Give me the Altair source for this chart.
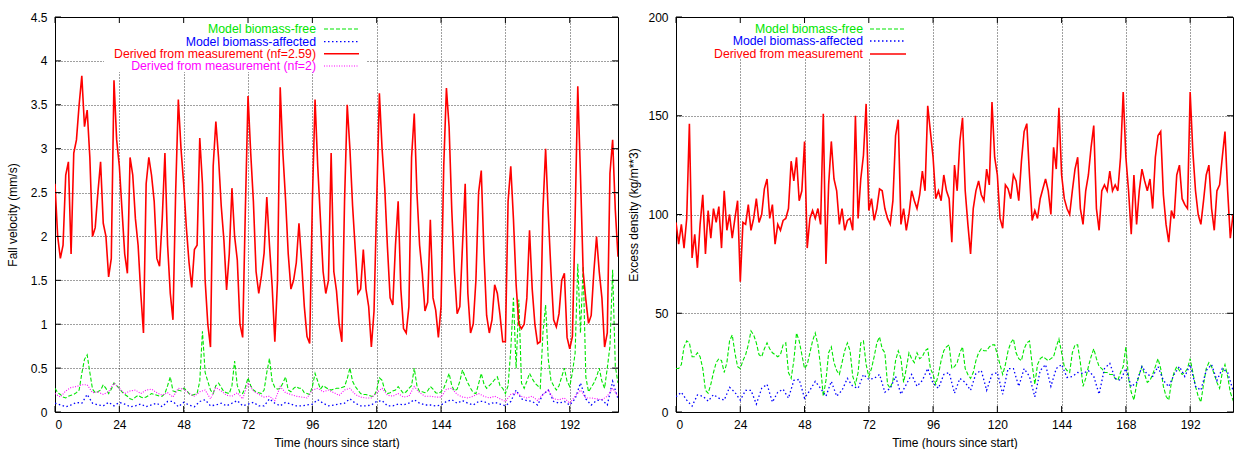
import altair as alt
import pandas as pd

FONT = "Liberation Sans"
H = 395
W_LEFT, W_RIGHT = 563, 557

GREEN = "#00e600"
BLUE = "#0000ff"
RED = "#ff0000"
MAGENTA = "#ff00ff"

# ---- fall velocity (mm/s), hourly from t = 0 ----
fall_nf259 = [
    2.6, 2.0, 1.75, 1.9, 2.7, 2.85, 1.8, 2.95, 3.1, 3.5,
    3.83, 3.25, 3.44, 2.9, 2.0, 2.1, 2.5, 2.85, 2.15, 2.0,
    1.54, 1.75, 3.78, 3.1, 2.8, 2.3, 1.8, 1.58, 2.9, 2.7,
    2.2, 1.9, 1.35, 0.9, 2.6, 2.9, 2.7, 2.4, 1.75, 1.66,
    2.2, 2.95, 1.9, 1.35, 1.05, 2.5, 3.56, 3.0, 2.6, 2.1,
    1.7, 1.42, 1.85, 1.9, 3.12, 2.6, 1.5, 1.0, 0.74, 2.8,
    3.31, 2.9, 2.35, 1.96, 1.39, 1.8, 2.55, 2.0, 1.73, 1.0,
    0.85, 2.3, 3.6, 2.95, 2.4, 1.6, 1.35, 1.55, 1.81, 2.45,
    1.9, 1.43, 0.8, 1.5, 3.7, 2.95, 2.42, 1.8, 1.4, 1.5,
    1.7, 2.15, 1.7, 1.2, 0.86, 0.78, 2.4, 3.56, 2.8, 2.2,
    1.6, 1.35, 1.5, 2.95, 1.6, 1.38, 1.0, 0.8, 2.4, 3.5,
    3.0, 2.35, 1.85, 1.35, 1.4, 1.85, 1.4, 1.2, 0.74, 1.15,
    2.4, 3.63, 3.0, 2.55, 1.88, 1.3, 1.22, 1.9, 2.4, 1.4,
    0.95, 0.9, 1.2, 2.9, 3.4, 2.5, 1.9, 1.58, 1.15, 1.25,
    2.19, 1.3, 1.16, 0.85, 1.2, 2.8, 3.69, 3.25, 2.3, 1.6,
    1.12, 1.2, 1.9, 2.6, 1.35, 0.9, 1.0, 1.5, 2.5, 2.75,
    1.8, 1.1, 0.9, 1.05, 1.45, 1.35, 1.1, 0.8, 0.8, 2.4,
    2.8, 2.2, 1.45, 1.0, 0.95, 1.0, 1.3, 2.07, 1.4, 1.0,
    0.78, 0.8, 2.3, 3.0, 2.25, 1.6, 1.05, 0.97, 1.12, 1.5,
    1.58, 0.85, 0.72, 0.86, 2.2, 3.71, 2.7, 1.6, 1.28, 1.01,
    1.1, 1.6, 2.0, 1.6, 1.3, 0.74, 0.9, 2.72, 3.1, 2.3,
    1.77,
]
fall_free = [
    0.27, 0.22, 0.2, 0.17, 0.16, 0.18, 0.19, 0.2, 0.22, 0.25,
    0.44, 0.6, 0.65, 0.45, 0.26, 0.22, 0.23, 0.25, 0.31, 0.27,
    0.21, 0.26, 0.33, 0.3, 0.27, 0.23, 0.2, 0.18, 0.15, 0.14,
    0.17, 0.19, 0.17, 0.16, 0.17, 0.19, 0.21, 0.2, 0.19, 0.18,
    0.18, 0.21, 0.3, 0.4, 0.24, 0.23, 0.25, 0.24, 0.27, 0.25,
    0.21, 0.19, 0.2, 0.21, 0.35, 0.92, 0.45, 0.35, 0.25, 0.21,
    0.3, 0.33, 0.28, 0.23, 0.22, 0.21, 0.3, 0.58, 0.3, 0.22,
    0.21, 0.28, 0.39, 0.3, 0.25, 0.23, 0.22, 0.21, 0.25, 0.45,
    0.61, 0.35, 0.28, 0.26, 0.27, 0.33, 0.4, 0.25, 0.23, 0.27,
    0.29, 0.27, 0.27, 0.22, 0.21, 0.2, 0.29, 0.44, 0.35, 0.26,
    0.3, 0.28, 0.26, 0.25, 0.26, 0.27, 0.27, 0.28, 0.29, 0.38,
    0.5, 0.35, 0.29, 0.25, 0.21, 0.2, 0.2, 0.19, 0.18, 0.18,
    0.25, 0.39, 0.36, 0.25, 0.21, 0.22, 0.24, 0.25, 0.29, 0.25,
    0.21, 0.23, 0.27, 0.3, 0.5, 0.3, 0.23, 0.23, 0.22, 0.24,
    0.29, 0.26, 0.22, 0.21, 0.23, 0.27, 0.35, 0.44, 0.3, 0.24,
    0.26, 0.35, 0.48, 0.4, 0.33, 0.27, 0.22, 0.21, 0.32, 0.44,
    0.32, 0.27, 0.3, 0.33, 0.37, 0.4, 0.3, 0.27, 0.21, 0.3,
    0.71, 1.3, 0.5, 1.28, 0.33, 0.27, 0.35, 0.44, 0.38, 0.33,
    0.3, 0.27, 0.9, 1.22, 0.6, 0.36, 0.3, 0.25, 0.3, 0.4,
    0.5, 0.35, 0.29, 0.45, 0.67, 1.69, 0.9, 1.66, 0.4, 0.23,
    0.28, 0.33, 0.4, 0.5, 0.35, 0.27, 0.5, 0.75, 1.62, 0.52,
    0.33,
]
# two-hourly from t = 0
fall_affected = [
    0.1, 0.08, 0.06, 0.08, 0.11, 0.1, 0.2, 0.1, 0.08, 0.07,
    0.11, 0.07, 0.11, 0.09, 0.06, 0.07, 0.09, 0.06, 0.08, 0.1,
    0.06, 0.12, 0.12, 0.06, 0.11, 0.08, 0.06, 0.12, 0.14, 0.07,
    0.08, 0.1, 0.07, 0.1, 0.13, 0.07, 0.09, 0.11, 0.07, 0.07,
    0.15, 0.1, 0.07, 0.11, 0.09, 0.07, 0.07, 0.08, 0.09, 0.14,
    0.1, 0.07, 0.08, 0.09, 0.1, 0.15, 0.1, 0.07, 0.07, 0.08,
    0.12, 0.13, 0.07, 0.07, 0.09, 0.08, 0.1, 0.14, 0.1, 0.08,
    0.08, 0.07, 0.08, 0.12, 0.14, 0.1, 0.13, 0.1, 0.08, 0.12,
    0.12, 0.09, 0.11, 0.09, 0.07, 0.12, 0.25, 0.15, 0.13, 0.12,
    0.08, 0.2, 0.25, 0.12, 0.1, 0.12, 0.08, 0.15, 0.33, 0.15,
    0.08, 0.13, 0.14, 0.08, 0.35, 0.15,
]
fall_nf2 = [
    0.21, 0.17, 0.24, 0.28, 0.29, 0.31, 0.31, 0.22, 0.23, 0.2,
    0.23, 0.33, 0.27, 0.21, 0.24, 0.25, 0.21, 0.25, 0.26, 0.22,
    0.19, 0.22, 0.17, 0.27, 0.26, 0.21, 0.18, 0.23, 0.25, 0.15,
    0.28, 0.24, 0.19, 0.18, 0.22, 0.15, 0.33, 0.24, 0.2, 0.17,
    0.18, 0.13, 0.29, 0.22, 0.2, 0.18, 0.17, 0.16, 0.25, 0.27,
    0.23, 0.25, 0.22, 0.19, 0.25, 0.27, 0.2, 0.17, 0.16, 0.16,
    0.22, 0.27, 0.19, 0.18, 0.21, 0.17, 0.18, 0.29, 0.22, 0.18,
    0.18, 0.17, 0.17, 0.26, 0.27, 0.2, 0.17, 0.16, 0.18, 0.21,
    0.18, 0.16, 0.18, 0.15, 0.12, 0.2, 0.22, 0.18, 0.16, 0.18,
    0.13, 0.2, 0.25, 0.15, 0.14, 0.16, 0.1, 0.18, 0.25, 0.16,
    0.16, 0.15, 0.14, 0.18, 0.27, 0.18,
]

# ---- excess density (kg/m**3), hourly from t = 0 ----
dens_meas = [
    96, 85, 95, 83, 98, 146, 78, 90, 73, 95,
    110, 80, 102, 88, 103, 96, 104, 83, 112, 92,
    100, 88, 98, 107, 66, 96, 95, 105, 92, 98,
    108, 96, 100, 113, 118, 98, 105, 85, 95, 92,
    97, 98, 103, 127, 117, 129, 107, 112, 137, 83,
    98, 102, 98, 103, 95, 151, 75, 115, 137, 118,
    112, 95, 103, 92, 97, 98, 92, 150, 98, 118,
    130, 156, 102, 108, 97, 103, 113, 112, 103, 98,
    95, 107, 140, 148, 95, 103, 92, 100, 112, 107,
    103, 110, 122, 112, 155, 142, 129, 108, 112, 107,
    120, 112, 108, 86, 125, 112, 137, 149, 112, 95,
    80, 103, 112, 117, 110, 107, 123, 115, 157, 129,
    120, 98, 93, 115, 113, 108, 120, 117, 107, 127,
    142, 146, 120, 97, 102, 98, 108, 113, 118, 112,
    100, 134, 123, 154, 120, 108, 103, 100, 112, 123,
    129, 103, 95, 112, 120, 134, 145, 103, 92, 112,
    115, 112, 122, 112, 115, 112, 129, 162, 129, 112,
    90, 120, 95, 112, 123, 117, 112, 118, 103, 129,
    140, 142, 110, 95, 86, 102, 98, 120, 125, 108,
    105, 103, 162, 132, 112, 100, 95, 107, 120, 125,
    103, 92, 112, 115, 129, 142, 112, 88, 100, 92,
    95,
]
dens_free = [
    22, 22, 24, 33, 36, 35, 28, 28, 30, 28,
    22, 11, 9.5, 14, 20, 25, 27, 26, 20, 25,
    36, 39, 30, 23, 22, 26, 29, 34, 41, 39,
    35, 29, 28, 32, 35, 32, 30, 29, 28, 29,
    34, 35, 20, 17, 26, 40, 36, 29, 22, 24,
    30, 36, 40, 34, 23, 8, 16, 30, 33, 25,
    21, 19, 25, 31, 35, 31, 18, 14, 20, 35,
    36, 24, 18, 22, 28, 35, 38, 32, 30, 14,
    12, 16, 26, 31, 27, 15, 22, 30, 27, 25,
    30, 27, 28, 31, 32, 22, 19, 14, 19, 26,
    31, 33, 34, 22, 23, 25, 30, 33, 22, 19,
    17, 20, 26, 30, 32, 31, 31, 33, 34, 34,
    29, 24, 19, 24, 31, 35, 37, 30, 27, 26,
    32, 35, 36, 24, 14, 24, 27, 28, 27, 26,
    27, 28, 33, 37, 30, 23, 21, 20, 30, 34,
    34, 25, 13, 17, 23, 28, 32, 27, 23, 22,
    20, 20, 19, 19, 17, 16, 20, 23, 33, 17,
    10, 6, 14, 19, 23, 19, 15, 16, 19, 23,
    27, 22, 13, 8, 6, 15, 20, 23, 21, 19,
    20, 22, 27, 20, 13, 8, 5, 14, 22, 25,
    23, 19, 15, 12, 20, 24, 18, 10, 6, 8,
    12,
]
# two-hourly from t = 0
dens_affected = [
    7.7, 10, 6, 3, 8.6, 8, 5.5, 8.8, 7, 6,
    12.5, 10, 6, 11, 11, 4, 12, 14, 5, 10,
    11.5, 7, 16, 16.5, 7, 11, 15.5, 12, 8, 15.5,
    8, 11, 17, 13, 12, 19, 16.5, 17, 19, 10,
    12, 18, 9, 14, 19, 13, 16, 22, 14.5, 12,
    19, 20, 9.5, 17, 15, 11, 19.5, 21, 11, 19,
    20, 9, 22, 22, 13, 22, 18, 7.7, 21, 24,
    13, 22, 24, 17.5, 18, 20, 19.5, 21, 18, 9,
    22, 24.6, 17, 16, 22, 12.8, 15, 23, 19, 18,
    23, 16, 12.8, 19, 23, 18, 24, 13, 11, 21,
    24, 16, 22, 20, 11, 14,
]

hour_ticks = [0, 24, 48, 72, 96, 120, 144, 168, 192]
fall_ticks = [0, 0.5, 1, 1.5, 2, 2.5, 3, 3.5, 4, 4.5]
dens_ticks = [0, 50, 100, 150, 200]

fall_labels = [
    "Model biomass-free",
    "Model biomass-affected",
    "Derived from measurement (nf=2.59)",
    "Derived from measurement (nf=2)",
]
dens_labels = [
    "Model biomass-free",
    "Model biomass-affected",
    "Derived from measurement",
]


def frame(values, step):
    return pd.DataFrame({"hour": [i * step for i in range(len(values))], "val": values})


DUMMY = pd.DataFrame({"k": [0]})


def panel(width, xmax, ymax, yticks, yfmt, ytitle, series, labels, key):
    xs = alt.Scale(domain=[0, xmax], nice=False, zero=False)
    ys = alt.Scale(domain=[0, ymax], nice=False, zero=False)
    xaxis = alt.Axis(values=hour_ticks, format="d", title="Time (hours since start)",
                     labelPadding=7, titleX=width / 2, titleY=30, titleBaseline="middle")
    yaxis = alt.Axis(values=yticks, format=yfmt, title=ytitle, labelPadding=8,
                     titleX=-43, titleY=H / 2, titleBaseline="middle")
    X = alt.X("hour:Q", scale=xs, axis=xaxis)
    Y = alt.Y("val:Q", scale=ys, axis=yaxis)

    layers = []
    # blank area behind the key (leaves the frame line untouched)
    mx0, mx1, my1 = key["mask"]
    layers.append(alt.Chart(DUMMY).mark_rect(fill="white").encode(
        x=alt.value(mx0), x2=alt.value(mx1), y=alt.value(1), y2=alt.value(my1)))

    for values, step, color, dash, sw in series:
        opts = dict(color=color, strokeWidth=sw, clip=True)
        if dash:
            opts["strokeDash"] = dash
        layers.append(alt.Chart(frame(values, step)).mark_line(**opts).encode(x=X, y=Y))

    # inward tick marks on all four sides
    xt = pd.DataFrame({"hour": hour_ticks})
    yt = pd.DataFrame({"val": yticks})
    layers.append(alt.Chart(xt).mark_rule(color="black").encode(
        x=X, y=alt.value(H), y2=alt.value(H - 6)))
    layers.append(alt.Chart(xt).mark_rule(color="black").encode(
        x=X, y=alt.value(0), y2=alt.value(6)))
    layers.append(alt.Chart(yt).mark_rule(color="black").encode(
        y=Y, x=alt.value(0), x2=alt.value(6)))
    layers.append(alt.Chart(yt).mark_rule(color="black").encode(
        y=Y, x=alt.value(width), x2=alt.value(width - 6)))

    # key: label text on the left, line sample on the right
    for (values, step, color, dash, sw), label, ry in zip(series, labels, key["rows"]):
        layers.append(alt.Chart(DUMMY).mark_text(
            align="right", baseline="middle", font=FONT, fontSize=12.3, color=color
        ).encode(x=alt.value(key["text_x"]), y=alt.value(ry), text=alt.value(label)))
        opts = dict(color=color, strokeWidth=sw)
        if dash:
            opts["strokeDash"] = dash
        layers.append(alt.Chart(DUMMY).mark_rule(**opts).encode(
            x=alt.value(key["x0"]), x2=alt.value(key["x1"]), y=alt.value(ry)))

    return alt.layer(*layers).properties(width=width, height=H)


# drawing order keeps the measured curve above the model curves
left_series = [
    (fall_free, 1, GREEN, [4, 2], 1.1),
    (fall_affected, 2, BLUE, [1.5, 2.5], 1.3),
    (fall_nf259, 1, RED, None, 1.6),
    (fall_nf2, 2, MAGENTA, [1, 1.5], 1.1),
]
left = panel(
    W_LEFT, 210, 4.5, fall_ticks, "~g", "Fall velocity (mm/s)",
    left_series, fall_labels,
    {"mask": (49, 312, 55), "rows": [12, 24.7, 36.7, 49], "text_x": 261, "x0": 269, "x1": 304},
)

right_series = [
    (dens_free, 1, GREEN, [4, 2], 1.1),
    (dens_affected, 2, BLUE, [1.5, 2.5], 1.3),
    (dens_meas, 1, RED, None, 1.6),
]
right = panel(
    W_RIGHT, 208, 200, dens_ticks, "d", "Excess density (kg/m**3)",
    right_series, dens_labels,
    {"mask": (29, 234, 42), "rows": [12, 24, 37], "text_x": 187, "x0": 194, "x1": 230},
)

chart = alt.hconcat(left, right, spacing=7).properties(
    padding={"left": 5, "right": 0, "top": 10, "bottom": 0},
    background="white",
).configure_view(
    stroke="black", strokeWidth=1,
).configure_axis(
    labelFont=FONT, labelFontSize=12, labelColor="black",
    titleFont=FONT, titleFontSize=12, titleFontWeight="normal", titleColor="black",
    domain=False, ticks=False, grid=True,
    gridColor="black", gridDash=[1, 2], gridOpacity=0.75, gridWidth=1,
)

chart.save("out.html", embed_options={"renderer": "svg", "actions": False})
